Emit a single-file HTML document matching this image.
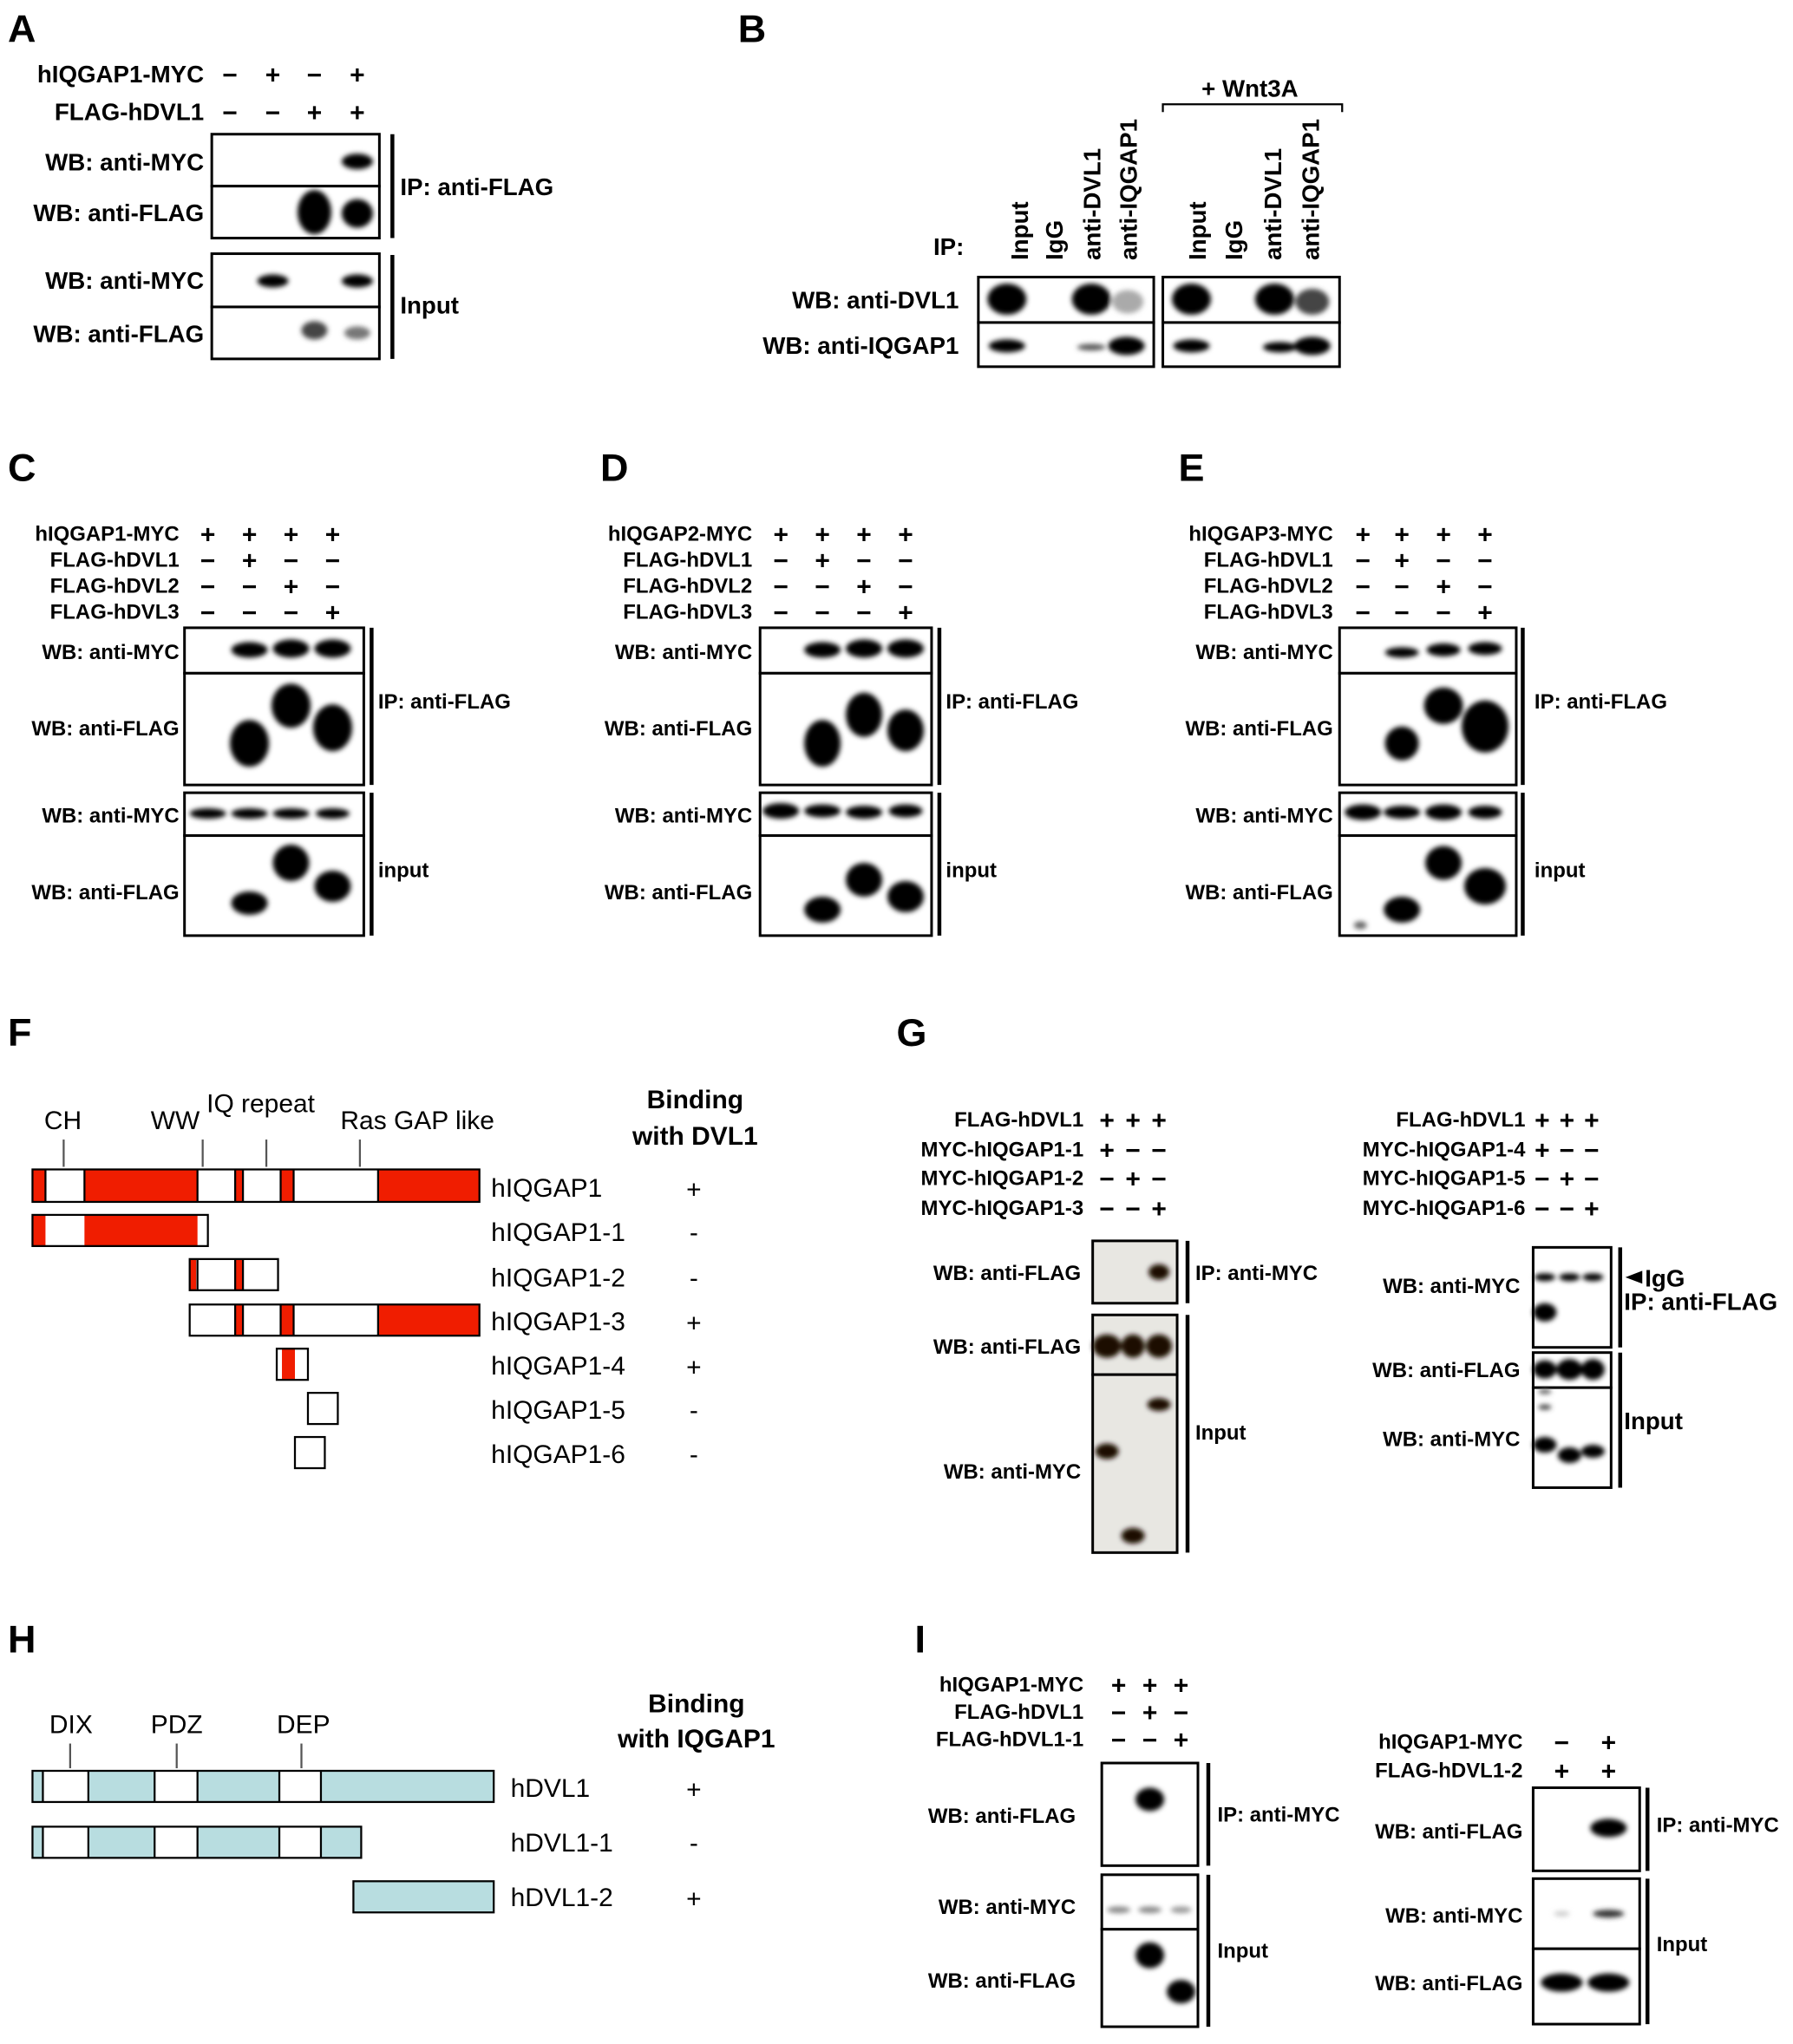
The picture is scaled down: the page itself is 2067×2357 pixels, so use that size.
<!DOCTYPE html>
<html><head><meta charset="utf-8"><style>
html,body{margin:0;padding:0;background:#fff}
svg{display:block}
text{font-family:"Liberation Sans",Arial,sans-serif}
.b{font-weight:bold;font-size:16px}
.s{font-weight:bold;font-size:18.5px}
.L{font-weight:bold;font-size:30px}
.n{font-size:20px}
.sg{font-weight:bold;font-size:20px;text-anchor:middle}
.bx{fill:#fff;stroke:#000;stroke-width:2}
.gb{fill:#e8e7e2;stroke:#000;stroke-width:2}
.vl{stroke:#000;stroke-width:3}
.tk{stroke:#555;stroke-width:1.5}
.r{fill:#f01d00}
.w{fill:#fff}
.bl{fill:#b8dde0}
.o{fill:none;stroke:#000;stroke-width:1.5}
</style></head><body>
<svg width="2067" height="2357" viewBox="0 0 1380 1573" xmlns="http://www.w3.org/2000/svg">
<defs><filter id="f" x="-50%" y="-50%" width="200%" height="200%"><feGaussianBlur stdDeviation="2"/></filter></defs>
<!-- Panel A -->
<text x="6" y="32" class="L">A</text>
<g class="s" text-anchor="end">
<text x="157" y="63">hIQGAP1-MYC</text><text x="157" y="92">FLAG-hDVL1</text>
<text x="157" y="131">WB: anti-MYC</text><text x="157" y="170">WB: anti-FLAG</text>
<text x="157" y="222">WB: anti-MYC</text><text x="157" y="263">WB: anti-FLAG</text></g>
<g class="sg"><text x="177" y="64">−</text><text x="210" y="64">+</text><text x="242" y="64">−</text><text x="275" y="64">+</text>
<text x="177" y="93">−</text><text x="210" y="93">−</text><text x="242" y="93">+</text><text x="275" y="93">+</text></g>
<rect x="163" y="103" width="129" height="40" class="bx"/><rect x="163" y="143" width="129" height="40" class="bx"/>
<rect x="163" y="195" width="129" height="41" class="bx"/><rect x="163" y="236" width="129" height="40" class="bx"/>
<line x1="302" y1="103" x2="302" y2="183" class="vl"/><line x1="302" y1="196" x2="302" y2="276" class="vl"/>
<text x="308" y="150" class="s">IP: anti-FLAG</text><text x="308" y="241" class="s">Input</text>
<g filter="url(#f)"><ellipse cx="275" cy="124" rx="12" ry="6"/><ellipse cx="242" cy="163" rx="13" ry="17"/><ellipse cx="275" cy="164" rx="12" ry="11"/>
<ellipse cx="210" cy="216" rx="12" ry="5"/><ellipse cx="275" cy="216" rx="12" ry="5"/>
<ellipse cx="242" cy="254" rx="10" ry="7" fill="#444"/><ellipse cx="275" cy="256" rx="10" ry="5" fill="#777"/></g>
<!-- Panel B -->
<text x="568" y="32" class="L">B</text>
<text x="742" y="196" class="s" text-anchor="end">IP:</text>
<g class="s">
<text transform="translate(791,200) rotate(-90)">Input</text><text transform="translate(818,200) rotate(-90)">IgG</text>
<text transform="translate(847,200) rotate(-90)">anti-DVL1</text><text transform="translate(875,200) rotate(-90)">anti-IQGAP1</text>
<text transform="translate(928,200) rotate(-90)">Input</text><text transform="translate(956,200) rotate(-90)">IgG</text>
<text transform="translate(986,200) rotate(-90)">anti-DVL1</text><text transform="translate(1015,200) rotate(-90)">anti-IQGAP1</text></g>
<text x="962" y="74" class="s" text-anchor="middle">+ Wnt3A</text>
<path d="M895 86 V80 H1033 V86" fill="none" stroke="#000" stroke-width="1.5"/>
<g class="s" text-anchor="end"><text x="738" y="237">WB: anti-DVL1</text><text x="738" y="272">WB: anti-IQGAP1</text></g>
<rect x="753" y="213" width="135" height="35" class="bx"/><rect x="753" y="248" width="135" height="34" class="bx"/>
<rect x="895" y="213" width="136" height="35" class="bx"/><rect x="895" y="248" width="136" height="34" class="bx"/>
<g filter="url(#f)"><ellipse cx="775" cy="230" rx="15" ry="12"/><ellipse cx="840" cy="230" rx="15" ry="12"/><ellipse cx="868" cy="232" rx="12" ry="9" fill="#aaa"/>
<ellipse cx="917" cy="230" rx="15" ry="12"/><ellipse cx="981" cy="230" rx="15" ry="12"/><ellipse cx="1010" cy="232" rx="13" ry="10" fill="#444"/>
<ellipse cx="775" cy="266" rx="14" ry="5"/><ellipse cx="840" cy="267" rx="11" ry="2.5" fill="#555"/><ellipse cx="867" cy="266" rx="14" ry="7"/>
<ellipse cx="917" cy="266" rx="14" ry="5"/><ellipse cx="985" cy="267" rx="13" ry="4"/><ellipse cx="1010" cy="266" rx="14" ry="7"/></g>
<!-- Panels C D E -->
<g id="C">
<text x="6" y="370" class="L">C</text>
<g class="b" text-anchor="end"><text x="138" y="416">hIQGAP1-MYC</text><text x="138" y="436">FLAG-hDVL1</text><text x="138" y="456">FLAG-hDVL2</text><text x="138" y="476">FLAG-hDVL3</text>
<text x="138" y="507">WB: anti-MYC</text><text x="138" y="566">WB: anti-FLAG</text><text x="138" y="633">WB: anti-MYC</text><text x="138" y="692">WB: anti-FLAG</text></g>
<g class="sg"><text x="160" y="418">+</text><text x="192" y="418">+</text><text x="224" y="418">+</text><text x="256" y="418">+</text>
<text x="160" y="438">−</text><text x="192" y="438">+</text><text x="224" y="438">−</text><text x="256" y="438">−</text>
<text x="160" y="458">−</text><text x="192" y="458">−</text><text x="224" y="458">+</text><text x="256" y="458">−</text>
<text x="160" y="478">−</text><text x="192" y="478">−</text><text x="224" y="478">−</text><text x="256" y="478">+</text></g>
<rect x="142" y="483" width="138" height="35" class="bx"/><rect x="142" y="518" width="138" height="86" class="bx"/>
<rect x="142" y="610" width="138" height="33" class="bx"/><rect x="142" y="643" width="138" height="77" class="bx"/>
<line x1="286" y1="483" x2="286" y2="604" class="vl"/><line x1="286" y1="610" x2="286" y2="720" class="vl"/>
<text x="291" y="545" class="b">IP: anti-FLAG</text><text x="291" y="675" class="b">input</text>
<g filter="url(#f)"><ellipse cx="192" cy="500" rx="14" ry="6"/><ellipse cx="224" cy="499" rx="14" ry="7"/><ellipse cx="256" cy="499" rx="14" ry="7"/>
<ellipse cx="192" cy="572" rx="15" ry="18"/><ellipse cx="224" cy="543" rx="15" ry="17"/><ellipse cx="256" cy="560" rx="15" ry="18"/>
<ellipse cx="160" cy="626" rx="14" ry="4"/><ellipse cx="192" cy="626" rx="14" ry="4"/><ellipse cx="224" cy="626" rx="14" ry="4"/><ellipse cx="256" cy="626" rx="13" ry="4"/>
<ellipse cx="192" cy="695" rx="14" ry="9"/><ellipse cx="224" cy="664" rx="14" ry="14"/><ellipse cx="256" cy="682" rx="14" ry="12"/></g>
</g>
<g transform="translate(441,0)">
<text x="21" y="370" class="L">D</text>
<g class="b" text-anchor="end"><text x="138" y="416">hIQGAP2-MYC</text><text x="138" y="436">FLAG-hDVL1</text><text x="138" y="456">FLAG-hDVL2</text><text x="138" y="476">FLAG-hDVL3</text>
<text x="138" y="507">WB: anti-MYC</text><text x="138" y="566">WB: anti-FLAG</text><text x="138" y="633">WB: anti-MYC</text><text x="138" y="692">WB: anti-FLAG</text></g>
<g class="sg"><text x="160" y="418">+</text><text x="192" y="418">+</text><text x="224" y="418">+</text><text x="256" y="418">+</text>
<text x="160" y="438">−</text><text x="192" y="438">+</text><text x="224" y="438">−</text><text x="256" y="438">−</text>
<text x="160" y="458">−</text><text x="192" y="458">−</text><text x="224" y="458">+</text><text x="256" y="458">−</text>
<text x="160" y="478">−</text><text x="192" y="478">−</text><text x="224" y="478">−</text><text x="256" y="478">+</text></g>
<rect x="144" y="483" width="132" height="35" class="bx"/><rect x="144" y="518" width="132" height="86" class="bx"/>
<rect x="144" y="610" width="132" height="33" class="bx"/><rect x="144" y="643" width="132" height="77" class="bx"/>
<line x1="282" y1="483" x2="282" y2="604" class="vl"/><line x1="282" y1="610" x2="282" y2="720" class="vl"/>
<text x="287" y="545" class="b">IP: anti-FLAG</text><text x="287" y="675" class="b">input</text>
<g filter="url(#f)"><ellipse cx="192" cy="500" rx="14" ry="6"/><ellipse cx="224" cy="499" rx="14" ry="7"/><ellipse cx="256" cy="499" rx="14" ry="7"/>
<ellipse cx="192" cy="572" rx="14" ry="18"/><ellipse cx="224" cy="550" rx="14" ry="17"/><ellipse cx="256" cy="562" rx="14" ry="16"/>
<ellipse cx="160" cy="624" rx="14" ry="6"/><ellipse cx="192" cy="624" rx="14" ry="5"/><ellipse cx="224" cy="625" rx="14" ry="5"/><ellipse cx="256" cy="624" rx="13" ry="5"/>
<ellipse cx="192" cy="700" rx="14" ry="10"/><ellipse cx="224" cy="677" rx="14" ry="13"/><ellipse cx="256" cy="690" rx="14" ry="12"/></g>
</g>
<g transform="translate(887,0)">
<text x="20" y="370" class="L">E</text>
<g class="b" text-anchor="end"><text x="139" y="416">hIQGAP3-MYC</text><text x="139" y="436">FLAG-hDVL1</text><text x="139" y="456">FLAG-hDVL2</text><text x="139" y="476">FLAG-hDVL3</text>
<text x="139" y="507">WB: anti-MYC</text><text x="139" y="566">WB: anti-FLAG</text><text x="139" y="633">WB: anti-MYC</text><text x="139" y="692">WB: anti-FLAG</text></g>
<g class="sg"><text x="162" y="418">+</text><text x="192" y="418">+</text><text x="224" y="418">+</text><text x="256" y="418">+</text>
<text x="162" y="438">−</text><text x="192" y="438">+</text><text x="224" y="438">−</text><text x="256" y="438">−</text>
<text x="162" y="458">−</text><text x="192" y="458">−</text><text x="224" y="458">+</text><text x="256" y="458">−</text>
<text x="162" y="478">−</text><text x="192" y="478">−</text><text x="224" y="478">−</text><text x="256" y="478">+</text></g>
<rect x="144" y="483" width="136" height="35" class="bx"/><rect x="144" y="518" width="136" height="86" class="bx"/>
<rect x="144" y="610" width="136" height="33" class="bx"/><rect x="144" y="643" width="136" height="77" class="bx"/>
<line x1="285" y1="483" x2="285" y2="604" class="vl"/><line x1="285" y1="610" x2="285" y2="720" class="vl"/>
<text x="294" y="545" class="b">IP: anti-FLAG</text><text x="294" y="675" class="b">input</text>
<g filter="url(#f)"><ellipse cx="192" cy="502" rx="13" ry="4"/><ellipse cx="224" cy="500" rx="13" ry="5"/><ellipse cx="256" cy="499" rx="13" ry="5"/>
<ellipse cx="192" cy="572" rx="13" ry="13"/><ellipse cx="224" cy="543" rx="15" ry="14"/><ellipse cx="256" cy="559" rx="18" ry="20"/>
<ellipse cx="162" cy="625" rx="14" ry="6"/><ellipse cx="192" cy="625" rx="14" ry="5"/><ellipse cx="224" cy="625" rx="14" ry="6"/><ellipse cx="256" cy="625" rx="13" ry="5"/>
<ellipse cx="192" cy="700" rx="14" ry="10"/><ellipse cx="224" cy="664" rx="14" ry="13"/><ellipse cx="256" cy="682" rx="16" ry="14"/>
<ellipse cx="160" cy="712" rx="5" ry="3" fill="#666"/></g>
</g>
<!-- Panel F -->
<text x="6" y="805" class="L">F</text>
<g class="s" text-anchor="middle" style="font-size:20px"><text x="535" y="853">Binding</text><text x="535" y="881">with DVL1</text></g>
<g class="n"><text x="34" y="869">CH</text><text x="116" y="869">WW</text><text x="159" y="856">IQ repeat</text><text x="262" y="869">Ras GAP like</text></g>
<g class="tk"><line x1="49" y1="877" x2="49" y2="898"/><line x1="156" y1="877" x2="156" y2="898"/><line x1="205" y1="877" x2="205" y2="898"/><line x1="277" y1="877" x2="277" y2="898"/></g>
<g>
<rect x="25" y="900" width="344" height="25" class="r"/><rect x="35" y="900" width="30" height="25" class="w"/><rect x="152" y="900" width="29" height="25" class="w"/><rect x="187" y="900" width="29" height="25" class="w"/><rect x="226" y="900" width="65" height="25" class="w"/>
<path d="M35 900V925M65 900V925M152 900V925M181 900V925M187 900V925M216 900V925M226 900V925M291 900V925" class="o"/><rect x="25" y="900" width="344" height="25" class="o"/>
<rect x="25" y="935" width="135" height="24" class="r"/><rect x="35" y="935" width="30" height="24" class="w"/><rect x="152" y="935" width="8" height="24" class="w"/><rect x="25" y="935" width="135" height="24" class="o"/>
<rect x="146" y="969" width="68" height="24" class="w"/><rect x="146" y="969" width="5" height="24" class="r"/><rect x="181" y="969" width="6" height="24" class="r"/><rect x="146" y="969" width="68" height="24" class="o"/><path d="M152 969V993M181 969V993M187 969V993" class="o"/>
<rect x="146" y="1004" width="223" height="24" class="w"/><rect x="181" y="1004" width="6" height="24" class="r"/><rect x="216" y="1004" width="10" height="24" class="r"/><rect x="291" y="1004" width="78" height="24" class="r"/><rect x="146" y="1004" width="223" height="24" class="o"/><path d="M181 1004V1028M187 1004V1028M216 1004V1028M226 1004V1028M291 1004V1028" class="o"/>
<rect x="213" y="1038" width="24" height="24" class="w"/><rect x="217" y="1038" width="10" height="24" class="r"/><rect x="213" y="1038" width="24" height="24" class="o"/>
<rect x="237" y="1072" width="23" height="24" class="o" fill="#fff"/><rect x="227" y="1106" width="23" height="24" class="o" fill="#fff"/>
</g>
<g class="n"><text x="378" y="921">hIQGAP1</text><text x="378" y="955">hIQGAP1-1</text><text x="378" y="990">hIQGAP1-2</text><text x="378" y="1024">hIQGAP1-3</text><text x="378" y="1058">hIQGAP1-4</text><text x="378" y="1092">hIQGAP1-5</text><text x="378" y="1126">hIQGAP1-6</text></g>
<g class="n" text-anchor="middle"><text x="534" y="922">+</text><text x="534" y="955">-</text><text x="534" y="990">-</text><text x="534" y="1025">+</text><text x="534" y="1059">+</text><text x="534" y="1092">-</text><text x="534" y="1126">-</text></g>
<!-- Panel G -->
<text x="690" y="805" class="L">G</text>
<g class="b" text-anchor="end"><text x="834" y="867">FLAG-hDVL1</text><text x="834" y="890">MYC-hIQGAP1-1</text><text x="834" y="912">MYC-hIQGAP1-2</text><text x="834" y="935">MYC-hIQGAP1-3</text>
<text x="832" y="985">WB: anti-FLAG</text><text x="832" y="1042">WB: anti-FLAG</text><text x="832" y="1138">WB: anti-MYC</text></g>
<g class="sg"><text x="852" y="869">+</text><text x="872" y="869">+</text><text x="892" y="869">+</text>
<text x="852" y="892">+</text><text x="872" y="892">−</text><text x="892" y="892">−</text>
<text x="852" y="914">−</text><text x="872" y="914">+</text><text x="892" y="914">−</text>
<text x="852" y="937">−</text><text x="872" y="937">−</text><text x="892" y="937">+</text></g>
<rect x="841" y="955" width="65" height="48" class="gb"/><rect x="841" y="1012" width="65" height="46" class="gb"/><rect x="841" y="1058" width="65" height="137" class="gb"/>
<line x1="914" y1="955" x2="914" y2="1003" class="vl"/><line x1="914" y1="1012" x2="914" y2="1195" class="vl"/>
<text x="920" y="985" class="b">IP: anti-MYC</text><text x="920" y="1108" class="b">Input</text>
<g filter="url(#f)" fill="#1a0a05"><ellipse cx="892" cy="979" rx="8" ry="6"/><ellipse cx="852" cy="1036" rx="11" ry="9"/><ellipse cx="872" cy="1036" rx="9" ry="9"/><ellipse cx="892" cy="1036" rx="10" ry="9"/>
<ellipse cx="852" cy="1117" rx="9" ry="6"/><ellipse cx="872" cy="1182" rx="9" ry="6"/><ellipse cx="892" cy="1081" rx="9" ry="5"/></g>
<g class="b" text-anchor="end"><text x="1174" y="867">FLAG-hDVL1</text><text x="1174" y="890">MYC-hIQGAP1-4</text><text x="1174" y="912">MYC-hIQGAP1-5</text><text x="1174" y="935">MYC-hIQGAP1-6</text>
<text x="1170" y="995">WB: anti-MYC</text><text x="1170" y="1060">WB: anti-FLAG</text><text x="1170" y="1113">WB: anti-MYC</text></g>
<g class="sg"><text x="1187" y="869">+</text><text x="1206" y="869">+</text><text x="1225" y="869">+</text>
<text x="1187" y="892">+</text><text x="1206" y="892">−</text><text x="1225" y="892">−</text>
<text x="1187" y="914">−</text><text x="1206" y="914">+</text><text x="1225" y="914">−</text>
<text x="1187" y="937">−</text><text x="1206" y="937">−</text><text x="1225" y="937">+</text></g>
<rect x="1180" y="960" width="60" height="77" class="bx"/><rect x="1180" y="1041" width="60" height="27" class="bx"/><rect x="1180" y="1068" width="60" height="77" class="bx"/>
<line x1="1247" y1="960" x2="1247" y2="1037" class="vl"/><line x1="1247" y1="1041" x2="1247" y2="1145" class="vl"/>
<polygon points="1251,983 1264,978 1264,988"/><text x="1266" y="990" class="s">IgG</text>
<text x="1250" y="1008" class="s">IP: anti-FLAG</text><text x="1250" y="1100" class="s">Input</text>
<g filter="url(#f)"><ellipse cx="1189" cy="983" rx="8" ry="3"/><ellipse cx="1208" cy="983" rx="8" ry="3"/><ellipse cx="1226" cy="983" rx="8" ry="3"/>
<ellipse cx="1189" cy="1010" rx="9" ry="7"/><ellipse cx="1189" cy="1054" rx="9" ry="7"/><ellipse cx="1208" cy="1054" rx="10" ry="8"/><ellipse cx="1226" cy="1054" rx="9" ry="8"/>
<ellipse cx="1189" cy="1071" rx="5" ry="2" fill="#666"/><ellipse cx="1189" cy="1083" rx="5" ry="2" fill="#444"/>
<ellipse cx="1189" cy="1112" rx="9" ry="6"/><ellipse cx="1208" cy="1120" rx="9" ry="6"/><ellipse cx="1226" cy="1117" rx="9" ry="5"/></g>
<!-- Panel H -->
<text x="6" y="1272" class="L">H</text>
<g class="s" text-anchor="middle" style="font-size:20px"><text x="536" y="1318">Binding</text><text x="536" y="1345">with IQGAP1</text></g>
<g class="n"><text x="38" y="1334">DIX</text><text x="116" y="1334">PDZ</text><text x="213" y="1334">DEP</text></g>
<g class="tk"><line x1="54" y1="1342" x2="54" y2="1361"/><line x1="136" y1="1342" x2="136" y2="1361"/><line x1="232" y1="1342" x2="232" y2="1361"/></g>
<rect x="25" y="1363" width="355" height="24" class="bl"/><rect x="33" y="1363" width="35" height="24" class="w"/><rect x="119" y="1363" width="33" height="24" class="w"/><rect x="215" y="1363" width="32" height="24" class="w"/>
<rect x="25" y="1363" width="355" height="24" class="o"/><path d="M33 1363V1387M68 1363V1387M119 1363V1387M152 1363V1387M215 1363V1387M247 1363V1387" class="o"/>
<rect x="25" y="1406" width="253" height="24" class="bl"/><rect x="33" y="1406" width="35" height="24" class="w"/><rect x="119" y="1406" width="33" height="24" class="w"/><rect x="215" y="1406" width="32" height="24" class="w"/>
<rect x="25" y="1406" width="253" height="24" class="o"/><path d="M33 1406V1430M68 1406V1430M119 1406V1430M152 1406V1430M215 1406V1430M247 1406V1430" class="o"/>
<rect x="272" y="1448" width="108" height="24" class="bl"/><rect x="272" y="1448" width="108" height="24" class="o"/>
<g class="n"><text x="393" y="1383">hDVL1</text><text x="393" y="1425">hDVL1-1</text><text x="393" y="1467">hDVL1-2</text></g>
<g class="n" text-anchor="middle"><text x="534" y="1384">+</text><text x="534" y="1425">-</text><text x="534" y="1468">+</text></g>
<!-- Panel I -->
<text x="704" y="1272" class="L">I</text>
<g class="b" text-anchor="end"><text x="834" y="1302">hIQGAP1-MYC</text><text x="834" y="1323">FLAG-hDVL1</text><text x="834" y="1344">FLAG-hDVL1-1</text>
<text x="828" y="1403">WB: anti-FLAG</text><text x="828" y="1473">WB: anti-MYC</text><text x="828" y="1530">WB: anti-FLAG</text></g>
<g class="sg"><text x="861" y="1304">+</text><text x="885" y="1304">+</text><text x="909" y="1304">+</text>
<text x="861" y="1325">−</text><text x="885" y="1325">+</text><text x="909" y="1325">−</text>
<text x="861" y="1346">−</text><text x="885" y="1346">−</text><text x="909" y="1346">+</text></g>
<rect x="848" y="1357" width="74" height="79" class="bx"/><rect x="848" y="1443" width="74" height="42" class="bx"/><rect x="848" y="1485" width="74" height="75" class="bx"/>
<line x1="930" y1="1357" x2="930" y2="1436" class="vl"/><line x1="930" y1="1443" x2="930" y2="1560" class="vl"/>
<text x="937" y="1402" class="b">IP: anti-MYC</text><text x="937" y="1507" class="b">Input</text>
<g filter="url(#f)"><ellipse cx="885" cy="1385" rx="11" ry="9"/><ellipse cx="861" cy="1470" rx="9" ry="2.5" fill="#888"/><ellipse cx="885" cy="1470" rx="9" ry="2.5" fill="#888"/><ellipse cx="909" cy="1470" rx="8" ry="2.5" fill="#999"/>
<ellipse cx="885" cy="1505" rx="11" ry="10"/><ellipse cx="909" cy="1533" rx="11" ry="9"/></g>
<g class="b" text-anchor="end"><text x="1172" y="1346">hIQGAP1-MYC</text><text x="1172" y="1368">FLAG-hDVL1-2</text>
<text x="1172" y="1415">WB: anti-FLAG</text><text x="1172" y="1480">WB: anti-MYC</text><text x="1172" y="1532">WB: anti-FLAG</text></g>
<g class="sg"><text x="1202" y="1348">−</text><text x="1238" y="1348">+</text><text x="1202" y="1370">+</text><text x="1238" y="1370">+</text></g>
<rect x="1180" y="1376" width="82" height="64" class="bx"/><rect x="1180" y="1446" width="82" height="54" class="bx"/><rect x="1180" y="1500" width="82" height="58" class="bx"/>
<line x1="1268" y1="1376" x2="1268" y2="1440" class="vl"/><line x1="1268" y1="1446" x2="1268" y2="1558" class="vl"/>
<text x="1275" y="1410" class="b">IP: anti-MYC</text><text x="1275" y="1502" class="b">Input</text>
<g filter="url(#f)"><ellipse cx="1238" cy="1407" rx="14" ry="7"/><ellipse cx="1238" cy="1473" rx="12" ry="3" fill="#333"/><ellipse cx="1202" cy="1473" rx="6" ry="2" fill="#ccc"/>
<ellipse cx="1202" cy="1526" rx="16" ry="7"/><ellipse cx="1238" cy="1526" rx="16" ry="7"/></g>
</svg>
</body></html>
